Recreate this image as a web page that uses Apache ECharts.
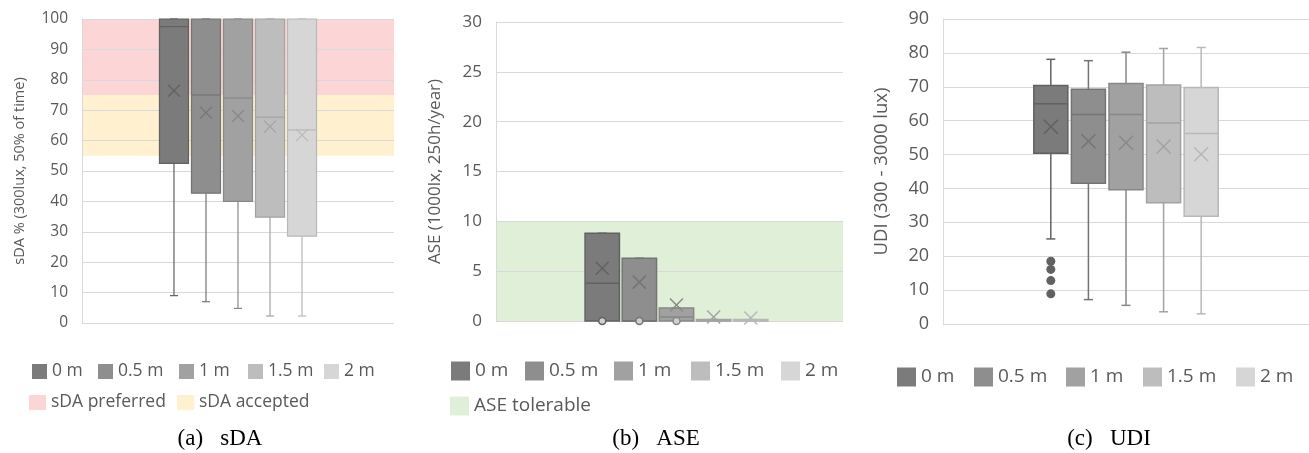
<!DOCTYPE html>
<html><head><meta charset="utf-8">
<script src="https://cdn.jsdelivr.net/npm/echarts@6/dist/echarts.min.js"></script>
<style>html,body{margin:0;padding:0;background:#fff}#c{width:1309px;height:453px}</style>
</head><body><div id="c"></div>
<script>
// ---------- data ----------
const categories = [''];
const groups = ['0 m', '0.5 m', '1 m', '1.5 m', '2 m'];
// per group: [min, Q1, median, Q3, max, mean]
const sdaStats = [
  [9.0, 52.5, 97.5, 100, 100, 76.4],
  [7.0, 42.7, 75.0, 100, 100, 69.2],
  [4.8, 40.0, 74.0, 100, 100, 68.1],
  [2.3, 34.8, 67.7, 100, 100, 64.6],
  [2.3, 28.6, 63.5, 100, 100, 61.8]
];
const aseStats = [
  [0, 0, 3.8, 8.8, 8.8, 5.3],
  [0, 0, 0, 6.3, 6.3, 3.9],
  [0, 0, 0.4, 1.3, 1.3, 1.6],
  [0, 0, 0, 0.15, 0.15, 0.4],
  [0, 0, 0, 0.15, 0.15, 0.3]
];
const udiStats = [
  [25.1, 50.4, 65.0, 70.4, 78.1, 58.2],
  [7.2, 41.5, 61.8, 69.3, 77.7, 53.9],
  [5.5, 39.6, 61.8, 71.0, 80.2, 53.5],
  [3.6, 35.8, 59.3, 70.5, 81.3, 52.4],
  [3.0, 31.8, 56.2, 69.8, 81.6, 50.1]
];
const sdaOutliers = [[], [], [], [], []];
const aseOutliers = [[0], [0], [0], [], []];
const udiOutliers = [[18.5, 16.1, 12.8, 8.9], [], [], [], []];
const bandNames = ['sDA preferred', 'sDA accepted', 'ASE tolerable'];
const sdaPreferred = [75, 100];
const sdaAccepted = [55, 75];
const aseTolerable = [0, 10];
const sdaTicks = [0, 100, 10];
const aseTicks = [0, 30, 5];
const udiTicks = [0, 90, 10];
const axisNames = ['sDA % (300lux, 50% of time)', 'ASE (1000lx, 250h/year)', 'UDI (300 - 3000 lux)'];
const captions = ['(a)   sDA', '(b)   ASE', '(c)   UDI'];

// ---------- style ----------
const fills = ['#7b7b7b', '#8e8e8e', '#a1a1a1', '#bdbdbd', '#d6d6d6'];
const borders = ['#616161', '#747474', '#888888', '#a3a3a3', '#b8b8b8'];
const bandColors = ['#fcd6d6', '#fff0cf', '#e0efd8'];
const FONT = 'Open Sans';
const TXT = '#595959';

const panels = [
  { grid: {left: 82, top: 19, width: 312, height: 304}, ticks: sdaTicks, stats: sdaStats, outl: sdaOutliers,
    lay: {box: 0.093, step: 0.1026, shift: 0, lw: 1.2, cap: 4, mark: 12, r: 3.5, hollow: false},
    tickFs: 15.5, nameFs: 14.5, nameGap: 55, legFs: 17.5, legSize: 15,
    legRows: [{y: 370, xs: [32, 98, 179, 248, 324], names: groups},
              {y: 401, xs: [29, 177], names: [bandNames[0], bandNames[1]], w: 17}],
    capX: 220 },
  { grid: {left: 496, top: 22, width: 347, height: 299}, ticks: aseTicks, stats: aseStats, outl: aseOutliers,
    lay: {box: 0.099, step: 0.107, shift: 7, lw: 1.5, cap: 4.5, mark: 13, r: 3.5, hollow: true},
    tickFs: 17, nameFs: 17, nameGap: 52, legFs: 19, legSize: 19,
    legRows: [{y: 371, xs: [451, 525, 614, 691, 781], names: groups},
              {y: 406, xs: [450], names: [bandNames[2]]}],
    capX: 656 },
  { grid: {left: 943, top: 19, width: 366, height: 305}, ticks: udiTicks, stats: udiStats, outl: udiOutliers,
    lay: {box: 0.093, step: 0.1027, shift: 0, lw: 1.5, cap: 4.5, mark: 14, r: 4.5, hollow: false},
    tickFs: 18, nameFs: 18.5, nameGap: 52, legFs: 19, legSize: 19,
    legRows: [{y: 377, xs: [897, 974, 1066, 1143, 1236], names: groups}],
    capX: 1109 }
];

function boxRender(lay, k) {
  return function (params, api) {
    const band = api.size([1, 0])[0];
    const cx = api.coord([0, 0])[0] + (k - 2) * lay.step * band + lay.shift;
    const w = lay.box * band;
    const stroke = borders[k], fill = fills[k], lw = lay.lw;
    const ls = {stroke: stroke, lineWidth: lw};
    if (params.dataIndex === 0) {
      const y = i => api.coord([0, api.value(i)])[1];
      const yMin = y(1), yQ1 = y(2), yMed = y(3), yQ3 = y(4), yMax = y(5), yMean = y(6);
      const c = lay.cap, m = lay.mark / 2;
      return {type: 'group', children: [
        {type: 'line', shape: {x1: cx, y1: yMax, x2: cx, y2: yQ3}, style: ls},
        {type: 'line', shape: {x1: cx, y1: yQ1, x2: cx, y2: yMin}, style: ls},
        {type: 'line', shape: {x1: cx - c, y1: yMax, x2: cx + c, y2: yMax}, style: ls},
        {type: 'line', shape: {x1: cx - c, y1: yMin, x2: cx + c, y2: yMin}, style: ls},
        {type: 'rect', shape: {x: cx - w / 2, y: yQ3, width: w, height: yQ1 - yQ3}, style: {fill: fill, stroke: stroke, lineWidth: lw}},
        {type: 'line', shape: {x1: cx - w / 2, y1: yMed, x2: cx + w / 2, y2: yMed}, style: ls},
        {type: 'line', shape: {x1: cx - m, y1: yMean - m, x2: cx + m, y2: yMean + m}, style: ls},
        {type: 'line', shape: {x1: cx - m, y1: yMean + m, x2: cx + m, y2: yMean - m}, style: ls}
      ]};
    }
    const yo = api.coord([0, api.value(1)])[1];
    return {type: 'circle', shape: {cx: cx, cy: yo, r: lay.r},
      style: lay.hollow ? {fill: '#d0d0d0', stroke: stroke, lineWidth: 1.5} : {fill: stroke}};
  };
}
function bandRender(params, api) {
  const cs = params.coordSys;
  const y1 = api.coord([0, api.value(1)])[1], y2 = api.coord([0, api.value(2)])[1];
  return {type: 'rect', shape: {x: cs.x, y: y2, width: cs.width, height: y1 - y2},
    style: {fill: api.visual('color')}};
}

const grid = [], xAxis = [], yAxis = [], series = [], legend = [], graphic = [];
panels.forEach((p, pi) => {
  grid.push(p.grid);
  xAxis.push({type: 'category', gridIndex: pi, data: categories,
    axisLine: {show: false}, axisTick: {show: false}, axisLabel: {show: false}});
  yAxis.push({type: 'value', gridIndex: pi, min: p.ticks[0], max: p.ticks[1], interval: p.ticks[2],
    name: axisNames[pi], nameLocation: 'middle', nameRotate: 90, nameGap: p.nameGap,
    nameTextStyle: {color: TXT, fontFamily: FONT, fontSize: p.nameFs},
    axisLine: {show: true, lineStyle: {color: '#d9d9d9', width: 1}}, axisTick: {show: false},
    axisLabel: {color: TXT, fontFamily: FONT, fontSize: p.tickFs, margin: 14},
    splitLine: {lineStyle: {color: '#d9d9d9', width: 1}}});
  const bands = pi === 0 ? [[bandNames[0], sdaPreferred, 0], [bandNames[1], sdaAccepted, 1]]
              : pi === 1 ? [[bandNames[2], aseTolerable, 2]] : [];
  bands.forEach(b => {
    series.push({type: 'custom', name: b[0], xAxisIndex: pi, yAxisIndex: pi, z: -1, silent: true,
      itemStyle: {color: bandColors[b[2]]},
      dimensions: ['x', 'lo', 'hi'], encode: {x: 0, y: [1, 2]},
      data: [[0, b[1][0], b[1][1]]], renderItem: bandRender});
  });
  groups.forEach((g, k) => {
    const data = [[0].concat(p.stats[k])];
    p.outl[k].forEach(v => data.push([0, v]));
    series.push({type: 'custom', name: g, xAxisIndex: pi, yAxisIndex: pi, silent: true,
      itemStyle: {color: fills[k], borderColor: borders[k], borderWidth: 1},
      dimensions: ['x', 'min', 'q1', 'med', 'q3', 'max', 'mean'], encode: {x: 0, y: [1, 2, 3, 4, 5, 6]},
      data: data, renderItem: boxRender(p.lay, k)});
  });
  p.legRows.forEach(row => {
    row.names.forEach((nm, j) => {
      const w = row.w || p.legSize;
      legend.push({data: [nm], left: row.xs[j], top: row.y - p.legSize / 2, padding: 0,
        itemWidth: w, itemHeight: p.legSize, icon: 'rect', selectedMode: false,
        itemStyle: {borderWidth: 0},
        textStyle: {color: TXT, fontFamily: FONT, fontSize: p.legFs}});
    });
  });
  graphic.push({type: 'text', x: p.capX, y: 439,
    style: {text: captions[pi], x: 0, y: 0, align: 'center', verticalAlign: 'middle',
      fontFamily: 'Liberation Serif', fontSize: 23, fill: '#000'}});
});

const chart = echarts.init(document.getElementById('c'), null, {renderer: 'canvas'});
chart.setOption({animation: false, backgroundColor: '#fff', grid, xAxis, yAxis, series, legend, graphic});
</script></body></html>
